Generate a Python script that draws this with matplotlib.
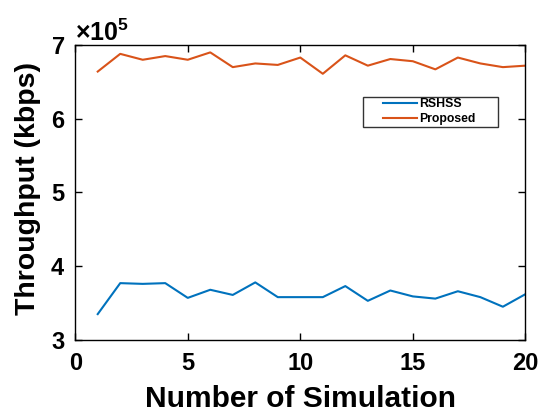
import matplotlib
matplotlib.use("Agg")
import matplotlib.pyplot as plt
from matplotlib.ticker import ScalarFormatter
from matplotlib.legend_handler import HandlerLine2D

plt.rcParams['font.family'] = ['Liberation Sans', 'DejaVu Sans']
plt.rcParams['font.weight'] = 'bold'
plt.rcParams['mathtext.default'] = 'regular'

simulations = list(range(1, 21))
rshss = [3.35, 3.77, 3.76, 3.77, 3.57, 3.68, 3.61, 3.78, 3.58, 3.58,
         3.58, 3.73, 3.53, 3.67, 3.59, 3.56, 3.66, 3.58, 3.45, 3.62]
proposed = [6.64, 6.88, 6.80, 6.85, 6.80, 6.90, 6.70, 6.75, 6.73, 6.83,
            6.61, 6.86, 6.72, 6.81, 6.78, 6.67, 6.83, 6.75, 6.70, 6.72]
rshss = [v * 1e5 for v in rshss]
proposed = [v * 1e5 for v in proposed]


class PadHandler(HandlerLine2D):
    """MATLAB-like legend handle: line drawn in the right part of the handle box."""
    def get_xdata(self, legend, xdescent, ydescent, width, height, fontsize):
        x0 = -xdescent + 0.36 * width
        x1 = -xdescent + width
        return [x0, x1], [0.5 * (x0 + x1)]


fig = plt.figure(figsize=(5.45, 4.13), dpi=100)
ax = fig.add_axes([0.138, 0.177, 0.826, 0.714])
l1, = ax.plot(simulations, rshss, color='#0072BD', lw=1.5, label='RSHSS')
l2, = ax.plot(simulations, proposed, color='#D95319', lw=1.5, label='Proposed')
ax.set_xlim(0, 20)
ax.set_ylim(3e5, 7e5)
ax.set_xticks([0, 5, 10, 15, 20])
ax.set_yticks([3e5, 4e5, 5e5, 6e5, 7e5])
fmt = ScalarFormatter(useMathText=True)
fmt.set_powerlimits((0, 0))
ax.yaxis.set_major_formatter(fmt)
ax.yaxis.get_offset_text().set_fontsize(18)
ax.yaxis.get_offset_text().set_fontweight('bold')
ax.tick_params(direction='in', top=True, right=True, labelsize=17, width=1, length=5)
ax.tick_params(axis='x', pad=9)
ax.tick_params(axis='y', pad=7)
for lab in ax.get_xticklabels() + ax.get_yticklabels():
    lab.set_fontweight('bold')
for s in ax.spines.values():
    s.set_linewidth(1)
ax.set_xlabel('Number of Simulation', fontsize=21.5, fontweight='bold')
ax.set_ylabel('Throughput (kbps)', fontsize=20.5, fontweight='bold')
ax.xaxis.set_label_coords(0.5, -0.153)
ax.yaxis.set_label_coords(-0.075, 0.515)
leg = ax.legend(loc='upper left', bbox_to_anchor=(0.639, 0.824, 0.30, 0.0), mode='expand',
                borderaxespad=0, fontsize=8.8, frameon=True, fancybox=False,
                edgecolor='black', handlelength=4.3, borderpad=0.12,
                labelspacing=0.22, handletextpad=0.2,
                handler_map={l1: PadHandler(), l2: PadHandler()})
leg.get_frame().set_linewidth(1)
fig.savefig('out.png', dpi=100)
